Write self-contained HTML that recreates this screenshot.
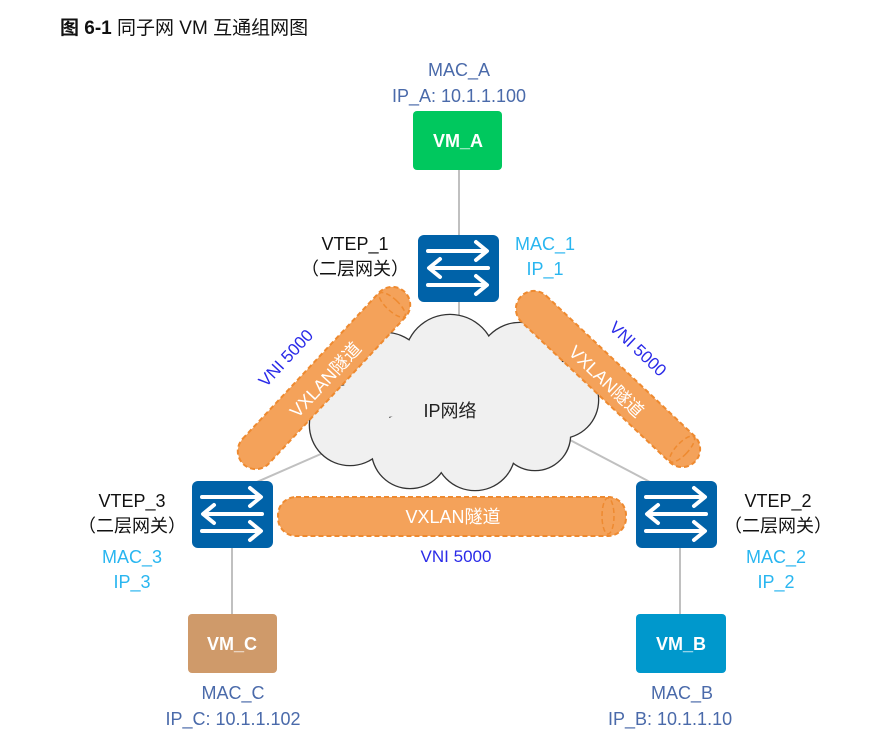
<!DOCTYPE html>
<html><head><meta charset="utf-8"><style>
body{margin:0;background:#fff;}
svg{display:block;}
text{font-family:"Liberation Sans","Noto Sans CJK SC",sans-serif;}
</style></head><body>
<svg width="880" height="754" viewBox="0 0 880 754" xmlns="http://www.w3.org/2000/svg">
<defs>
<g id="sw">
<rect x="0" y="0" width="81" height="67" rx="6" fill="#0062a8"/>
<g stroke="#fff" stroke-width="4" fill="none" stroke-linecap="round" stroke-linejoin="round">
<line x1="10" y1="16" x2="68" y2="16"/><polyline points="58,7 69,16 58,25"/>
<line x1="12" y1="33" x2="70" y2="33"/><polyline points="22,24 11,33 22,42"/>
<line x1="10" y1="50" x2="68" y2="50"/><polyline points="58,41 69,50 58,59"/>
</g>
</g>
<g id="cl">
<circle cx="385" cy="375" r="42"/>
<circle cx="450" cy="360" r="45"/>
<circle cx="520" cy="365" r="42"/>
<circle cx="560" cy="400" r="38"/>
<circle cx="350" cy="425" r="40"/>
<circle cx="410" cy="450" r="38"/>
<circle cx="475" cy="450" r="40"/>
<circle cx="535" cy="435" r="35"/>
<circle cx="455" cy="405" r="60"/>
</g>
</defs>
<text x="60" y="34" font-size="19" fill="#111"><tspan font-weight="bold">图 6-1</tspan> 同子网 VM 互通组网图</text>

<g stroke="#c0c0c0" stroke-width="2">
<line x1="459" y1="168" x2="459" y2="360"/>
<line x1="232" y1="548" x2="232" y2="614"/>
<line x1="680" y1="548" x2="680" y2="614"/>
<line x1="250" y1="485" x2="330" y2="450"/>
<line x1="570" y1="440" x2="650" y2="482"/>
</g>

<use href="#cl" fill="#f0f0f0" stroke="#333" stroke-width="2.6"/>
<use href="#cl" fill="#f0f0f0"/>
<text x="450" y="417" font-size="18" fill="#222" text-anchor="middle">IP网络</text>

<g fill="#f4a25a" stroke="#ee8a30" stroke-width="2" stroke-dasharray="5,3">
<rect x="-118" y="-18" width="236" height="36" rx="18" transform="translate(324,378) rotate(-47)"/>
<rect x="-120" y="-18" width="240" height="36" rx="18" transform="translate(608,379) rotate(43.4)"/>
<rect x="278" y="497" width="348" height="39" rx="18"/>
</g>
<g fill="none" stroke="#ee8a30" stroke-width="1.5" stroke-dasharray="5,3">
<ellipse cx="100" cy="0" rx="6" ry="17" transform="translate(324,378) rotate(-47)"/>
<ellipse cx="102" cy="0" rx="6" ry="17" transform="translate(608,379) rotate(43.4)"/>
<ellipse cx="608" cy="516" rx="6" ry="18"/>
</g>
<text font-size="18" fill="#fff" text-anchor="middle" transform="translate(330,384) rotate(-47)">VXLAN隧道</text>
<text font-size="18" fill="#fff" text-anchor="middle" transform="translate(602,386) rotate(43.4)">VXLAN隧道</text>
<text x="453" y="523" font-size="18" fill="#fff" text-anchor="middle">VXLAN隧道</text>
<text font-size="17" fill="#2a2ae8" text-anchor="middle" transform="translate(290,362) rotate(-47)">VNI 5000</text>
<text font-size="17" fill="#2a2ae8" text-anchor="middle" transform="translate(634,353) rotate(43.4)">VNI 5000</text>
<text x="456" y="562" font-size="17" fill="#2a2ae8" text-anchor="middle">VNI 5000</text>

<use href="#sw" x="418" y="235"/>
<use href="#sw" x="192" y="481"/>
<use href="#sw" x="636" y="481"/>

<rect x="413" y="111" width="89" height="59" rx="4" fill="#00c85e"/>
<text x="458" y="147" font-size="18" font-weight="bold" fill="#fff" text-anchor="middle">VM_A</text>
<rect x="188" y="614" width="89" height="59" rx="4" fill="#cf9a6a"/>
<text x="232" y="650" font-size="18" font-weight="bold" fill="#fff" text-anchor="middle">VM_C</text>
<rect x="636" y="614" width="90" height="59" rx="4" fill="#0098cc"/>
<text x="681" y="650" font-size="18" font-weight="bold" fill="#fff" text-anchor="middle">VM_B</text>

<g font-size="18" text-anchor="middle">
<text x="459" y="76" fill="#4a6aaa">MAC_A</text>
<text x="459" y="102" fill="#4a6aaa">IP_A: 10.1.1.100</text>
<text x="355" y="250" fill="#111">VTEP_1</text>
<text x="355" y="275" fill="#111">（二层网关）</text>
<text x="545" y="250" fill="#29b6f0">MAC_1</text>
<text x="545" y="275" fill="#29b6f0">IP_1</text>
<text x="132" y="507" fill="#111">VTEP_3</text>
<text x="132" y="532" fill="#111">（二层网关）</text>
<text x="132" y="563" fill="#29b6f0">MAC_3</text>
<text x="132" y="588" fill="#29b6f0">IP_3</text>
<text x="778" y="507" fill="#111">VTEP_2</text>
<text x="778" y="532" fill="#111">（二层网关）</text>
<text x="776" y="563" fill="#29b6f0">MAC_2</text>
<text x="776" y="588" fill="#29b6f0">IP_2</text>
<text x="233" y="699" fill="#4a6aaa">MAC_C</text>
<text x="233" y="725" fill="#4a6aaa">IP_C: 10.1.1.102</text>
<text x="682" y="699" fill="#4a6aaa">MAC_B</text>
</g>
<text x="608" y="725" font-size="18" fill="#4a6aaa">IP_B: 10.1.1.10</text>
<rect x="742" y="700" width="40" height="30" fill="#fff"/>
</svg>
</body></html>
